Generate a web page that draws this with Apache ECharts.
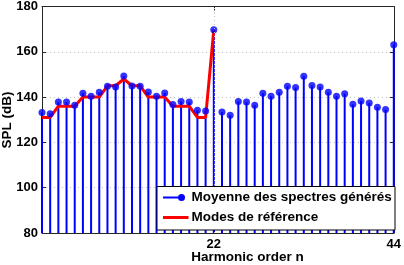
<!DOCTYPE html>
<html>
<head>
<meta charset="utf-8">
<script src="https://cdn.jsdelivr.net/npm/echarts@6/dist/echarts.min.js"></script>
<style>html,body{margin:0;padding:0;background:#fff;}#c{width:404px;height:265px;}</style>
</head>
<body>
<div id="c"></div>
<script>
// Harmonic order n
var harmonics = [1,2,3,4,5,6,7,8,9,10,11,12,13,14,15,16,17,18,19,20,21,22,23,24,25,26,27,28,29,30,31,32,33,34,35,36,37,38,39,40,41,42,43,44];
// Moyenne des spectres générés (dB)
var moyenne = [133.2,132.7,137.8,137.8,136.4,141.7,140.4,142.1,144.8,144.5,149.3,144.9,144.8,142.2,140.4,141.8,136.7,138.1,137.8,134.2,133.9,169.7,
               133.4,132.0,138.1,137.8,136.4,141.7,140.4,142.1,144.8,144.2,149.2,145.1,144.5,142.1,140.4,141.5,136.8,138.3,137.4,135.5,134.5,163.1];
// Modes de référence (dB), n = 1..22
var modesHarm = [1,2,3,4,5,6,7,8,9,10,11,12,13,14,15,16,17,18,19,20,21,22];
var modes = [131,131,136,136,136,140,140,140,145,145,148,145,145,140,140,140,136,136,136,131,131,169.7];
var xTicks = [22,44];
var yMin = 80, yMax = 180, yStep = 20;
var seriesNames = ['Moyenne des spectres générés','Modes de référence'];
var axisNames = ['Harmonic order n','SPL (dB)'];

var FONT = "'Liberation Sans', Arial, sans-serif";
var BLUE = '#0000ff', RED = '#ff0000', AX = '#262626';

var chart = echarts.init(document.getElementById('c'), null, {renderer:'canvas'});
var stemData = harmonics.map(function(x,i){return [x, moyenne[i]];});
var modeData = modesHarm.map(function(x,i){return [x, modes[i]];});

var option = {
  animation:false,
  backgroundColor:'#fff',
  grid:{left:42, right:6, top:6, bottom:32},
  xAxis:[{
    type:'value', min:1, max:44, position:'bottom',
    axisLine:{show:true, onZero:false, lineStyle:{color:AX, width:1}},
    axisTick:{show:true, inside:true, length:4, customValues:xTicks, lineStyle:{color:AX}},
    axisLabel:{show:true, customValues:xTicks, margin:5, alignMaxLabel:'center', color:'#000', fontFamily:FONT, fontWeight:'bold', fontSize:13},
    splitLine:{show:false}
  },{
    type:'value', min:1, max:44, position:'top',
    axisLine:{show:true, onZero:false, lineStyle:{color:AX, width:1}},
    axisTick:{show:true, inside:true, length:4, customValues:[22], lineStyle:{color:AX}},
    axisLabel:{show:false},
    splitLine:{show:false}
  }],
  yAxis:[{
    type:'value', min:yMin, max:yMax, interval:yStep, position:'left',
    axisLine:{show:true, onZero:false, lineStyle:{color:AX, width:1}},
    axisTick:{show:true, inside:true, length:4, lineStyle:{color:AX}},
    axisLabel:{margin:4, color:'#000', fontFamily:FONT, fontWeight:'bold', fontSize:13},
    splitLine:{show:true, lineStyle:{color:'#c0c0c0', type:[1,3], width:1}}
  },{
    type:'value', min:yMin, max:yMax, interval:yStep, position:'right',
    axisLine:{show:true, onZero:false, lineStyle:{color:AX, width:1}},
    axisTick:{show:true, inside:true, length:4, lineStyle:{color:AX}},
    axisLabel:{show:false},
    splitLine:{show:false}
  }],
  series:[{
    type:'bar', name:'stems', data:stemData, barWidth:2, z:2,
    itemStyle:{color:BLUE},
    silent:true,
    markLine:{
      silent:true, symbol:'none', label:{show:false},
      lineStyle:{color:'#c0c0c0', type:[1,3], width:1},
      data:[{xAxis:22}]
    }
  },{
    type:'line', name:seriesNames[1], data:modeData, z:3,
    showSymbol:false, symbol:'none',
    lineStyle:{color:RED, width:3}
  },{
    type:'scatter', name:seriesNames[0], data:stemData, z:4, clip:false,
    symbolSize:7, itemStyle:{color:BLUE}
  }],
  graphic:[
    {type:'text', x:7, y:120, rotation:Math.PI/2, style:{text:axisNames[1], font:"bold 13.5px "+FONT, fill:'#000', textAlign:'center', textVerticalAlign:'middle'}},
    {type:'text', x:247.5, y:257.5, style:{text:axisNames[0], font:"bold 13.5px "+FONT, fill:'#000', textAlign:'center', textVerticalAlign:'middle'}},
    {type:'rect', z:100, shape:{x:157, y:186.5, width:238, height:43.5}, style:{fill:'#fff', stroke:'#000', lineWidth:1}},
    {type:'line', z:101, shape:{x1:163, y1:197.5, x2:181.5, y2:197.5}, style:{stroke:BLUE, lineWidth:2}},
    {type:'circle', z:102, shape:{cx:181.5, cy:197.5, r:3.5}, style:{fill:BLUE}},
    {type:'text', z:101, x:191.5, y:197.5, style:{text:seriesNames[0], font:"bold 13.5px "+FONT, fill:'#000', textVerticalAlign:'middle'}},
    {type:'line', z:101, shape:{x1:163, y1:217.5, x2:188.5, y2:217.5}, style:{stroke:RED, lineWidth:3}},
    {type:'text', z:101, x:191.5, y:217.5, style:{text:seriesNames[1], font:"bold 13.5px "+FONT, fill:'#000', textVerticalAlign:'middle'}}
  ]
};
chart.setOption(option);
</script>
</body>
</html>
